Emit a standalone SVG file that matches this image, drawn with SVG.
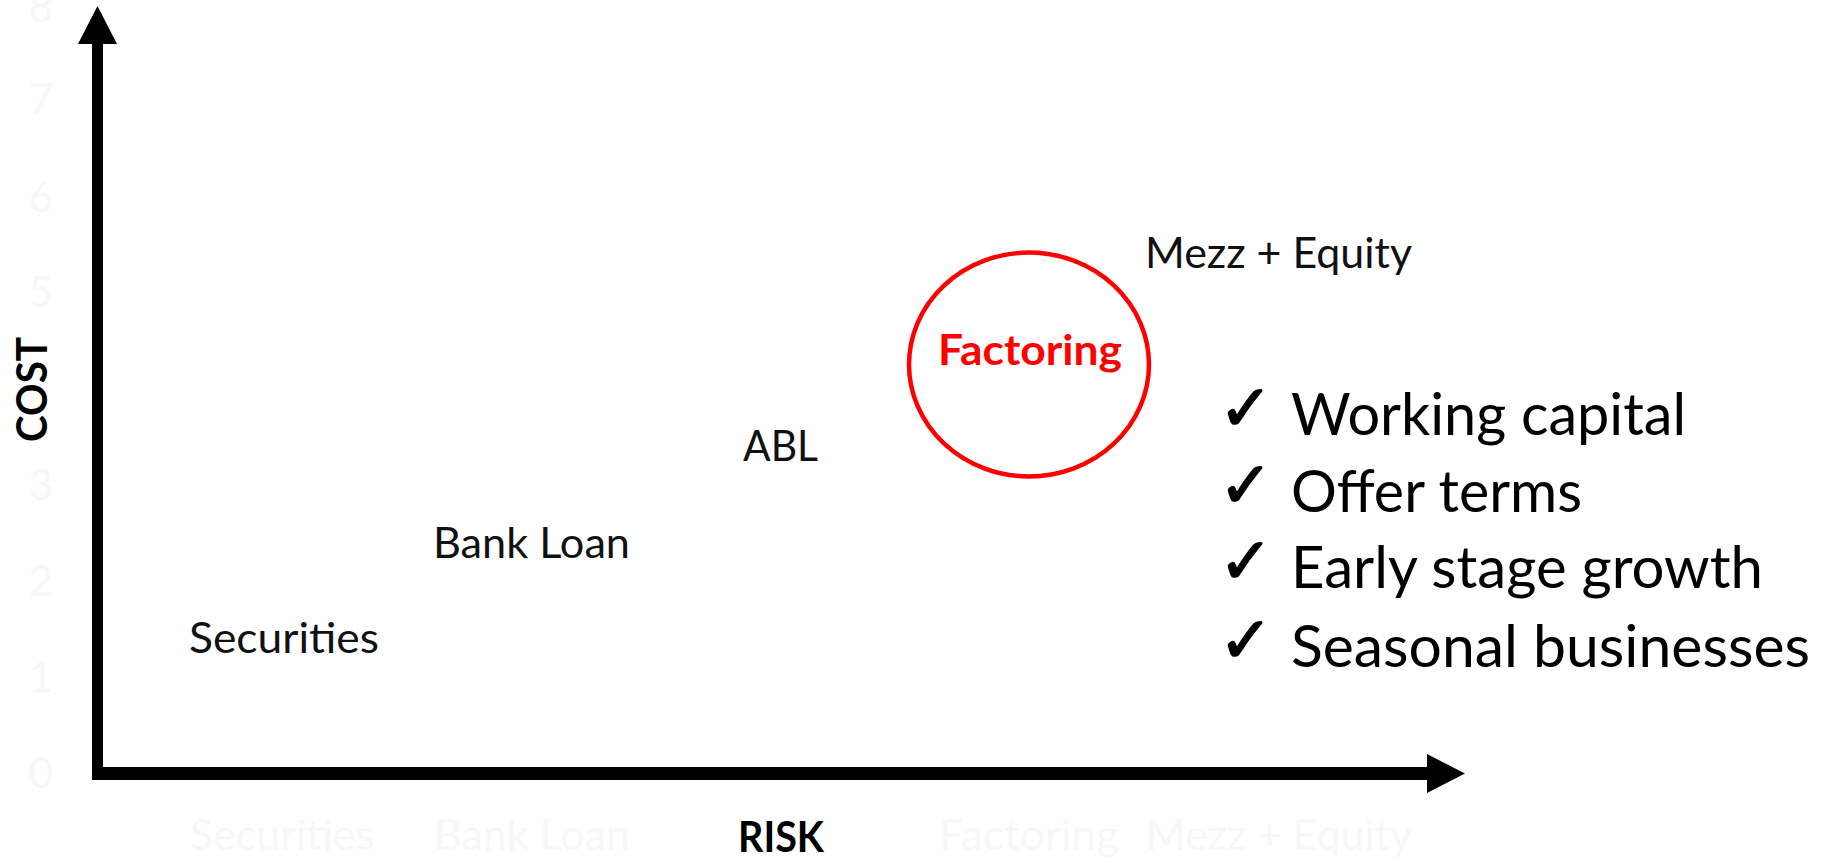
<svg xmlns="http://www.w3.org/2000/svg" width="1827" height="859" viewBox="0 0 1827 859">
  <style>
    .lbl { font-family: Lato, "Open Sans", "Liberation Sans", sans-serif; font-size: 42px; fill: #111111; }
    .axis-title { font-family: Lato, "Open Sans", "Liberation Sans", sans-serif; font-size: 42px; font-weight: bold; fill: #000000; }
    .ghost { font-family: Lato, "Open Sans", "Liberation Sans", sans-serif; font-size: 42px; fill: #f7f7f7; }
    .item { font-family: Lato, "Open Sans", "Liberation Sans", sans-serif; font-size: 58px; fill: #000000; }
    .tick { font-family: "DejaVu Sans", sans-serif; font-size: 64px; fill: #000000; stroke: #000000; stroke-width: 1.6px; }
    .hot { font-family: Lato, "Open Sans", "Liberation Sans", sans-serif; font-size: 42px; font-weight: bold; fill: #ff0000; }
  </style>
  <rect x="0" y="0" width="1827" height="859" fill="#ffffff"/>

  <!-- faint scale values behind the axes -->
  <g id="scale-values" class="ghost" text-anchor="middle">
    <text x="41" y="788">0</text>
    <text x="41" y="692">1</text>
    <text x="41" y="596">2</text>
    <text x="41" y="500">3</text>
    <text x="41" y="307">5</text>
    <text x="41" y="212">6</text>
    <text x="41" y="114">7</text>
    <text x="41" y="22">8</text>
  </g>
  <g id="category-values" class="ghost">
    <text x="190" y="850" textLength="184" lengthAdjust="spacingAndGlyphs">Securities</text>
    <text x="434" y="850" textLength="196" lengthAdjust="spacingAndGlyphs">Bank Loan</text>
    <text x="939" y="850" textLength="180" lengthAdjust="spacingAndGlyphs">Factoring</text>
    <text x="1146" y="850" textLength="266" lengthAdjust="spacingAndGlyphs">Mezz + Equity</text>
  </g>

  <!-- axes -->
  <g id="connectors">
    <line x1="97.5" y1="40" x2="97.5" y2="779" stroke="#000" stroke-width="11"/>
    <polygon points="97.5,6 78,44 117,44" fill="#000"/>
    <line x1="92" y1="773.5" x2="1430" y2="773.5" stroke="#000" stroke-width="13"/>
    <polygon points="1465,773.5 1427,754 1427,793" fill="#000"/>
  </g>

  <g id="axis-cost">
    <text class="axis-title" transform="translate(47,389.5) rotate(-90)" text-anchor="middle" textLength="105" lengthAdjust="spacingAndGlyphs">COST</text>
  </g>
  <g id="axis-risk">
    <text class="axis-title" x="738" y="852" textLength="86" lengthAdjust="spacingAndGlyphs">RISK</text>
  </g>

  <g id="securities">
    <text class="lbl" x="189" y="653" textLength="190" lengthAdjust="spacingAndGlyphs">Securities</text>
  </g>
  <g id="bank-loan">
    <text class="lbl" x="433" y="558" textLength="197" lengthAdjust="spacingAndGlyphs">Bank Loan</text>
  </g>
  <g id="abl">
    <text class="lbl" x="743" y="461" textLength="75" lengthAdjust="spacingAndGlyphs">ABL</text>
  </g>
  <g id="factoring">
    <ellipse cx="1029" cy="364.5" rx="120" ry="112" fill="none" stroke="#ff0000" stroke-width="4.5"/>
    <text class="hot" x="938" y="365" textLength="184" lengthAdjust="spacingAndGlyphs">Factoring</text>
  </g>
  <g id="mezz-equity">
    <text class="lbl" x="1145" y="268" textLength="267" lengthAdjust="spacingAndGlyphs">Mezz + Equity</text>
  </g>

  <g id="benefits">
    <text class="tick" x="1219" y="430">✓</text>
    <text class="item" x="1291" y="435" textLength="395" lengthAdjust="spacingAndGlyphs">Working capital</text>
    <text class="tick" x="1219" y="507">✓</text>
    <text class="item" x="1291" y="512" textLength="291" lengthAdjust="spacingAndGlyphs">Offer terms</text>
    <text class="tick" x="1219" y="583">✓</text>
    <text class="item" x="1291" y="588" textLength="472" lengthAdjust="spacingAndGlyphs">Early stage growth</text>
    <text class="tick" x="1219" y="662">✓</text>
    <text class="item" x="1291" y="667" textLength="519" lengthAdjust="spacingAndGlyphs">Seasonal businesses</text>
  </g>
</svg>
